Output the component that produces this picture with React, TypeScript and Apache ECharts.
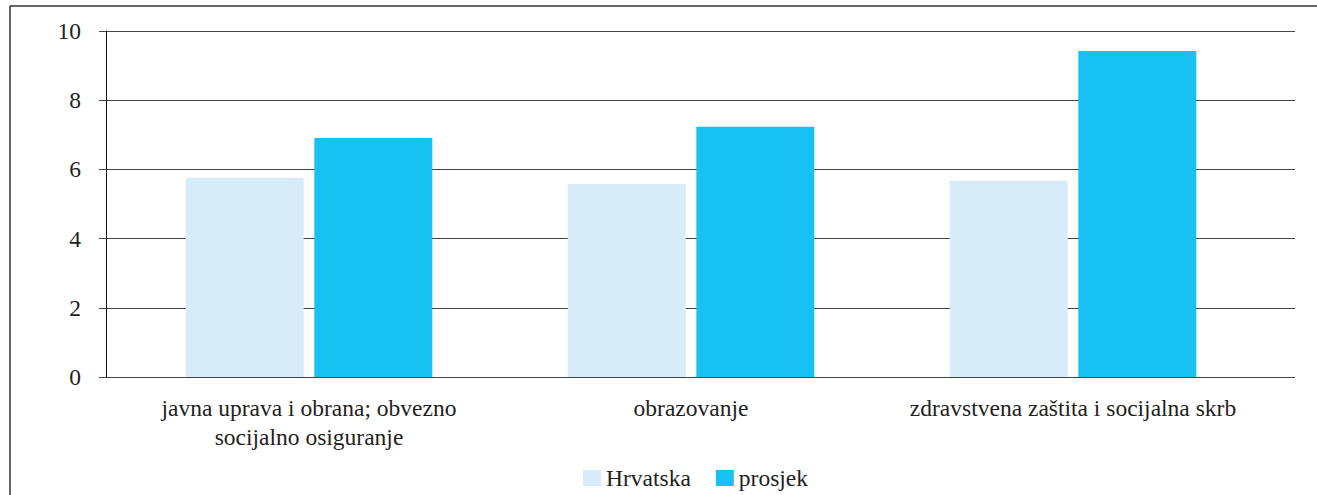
import React, { useEffect, useRef } from "react";
import * as echarts from "echarts";

const categories = [
  "javna uprava i obrana; obvezno\nsocijalno osiguranje",
  "obrazovanje",
  "zdravstvena zaštita i socijalna skrb",
];
const seriesNames = ["Hrvatska", "prosjek"];
const hrvatska = [5.76, 5.58, 5.67];
const prosjek = [6.91, 7.23, 9.42];

const FONT = "Liberation Serif, serif";
const FS = 23.5;
const TEXT = "#231f20";
const GRID_LINE = "#444444";

export default function App() {
  const ref = useRef<HTMLDivElement>(null);
  useEffect(() => {
    if (!ref.current) return;
    const chart = echarts.init(ref.current, undefined, { renderer: "svg" });
    chart.setOption({
      animation: false,
      textStyle: { fontFamily: FONT },
      graphic: [
        {
          type: "line",
          z: -10,
          silent: true,
          shape: { x1: 10, y1: 6, x2: 10, y2: 500 },
          style: { stroke: "#333333", lineWidth: 1.5 },
        },
        {
          type: "line",
          z: -10,
          silent: true,
          shape: { x1: 10, y1: 6, x2: 1330, y2: 6 },
          style: { stroke: "#333333", lineWidth: 1.5 },
        },
      ],
      legend: {
        data: seriesNames,
        left: 583,
        top: 466,
        padding: 0,
        icon: "rect",
        itemWidth: 18,
        itemHeight: 16,
        itemGap: 25,
        textStyle: { fontFamily: FONT, fontSize: FS, color: TEXT },
      },
      grid: [
        { left: 106, right: 22, top: 31, bottom: 118 },
        { left: 118, width: 1146, top: 31, bottom: 118 },
      ],
      xAxis: [
        {
          gridIndex: 0,
          type: "category",
          data: categories,
          show: false,
        },
        {
          gridIndex: 1,
          type: "category",
          data: categories,
          axisLine: { show: false },
          axisTick: { show: false },
          axisLabel: {
            margin: 16,
            fontFamily: FONT,
            fontSize: FS,
            color: TEXT,
            lineHeight: 29,
            interval: 0,
          },
        },
      ],
      yAxis: [
        {
          gridIndex: 0,
          type: "value",
          min: 0,
          max: 10,
          interval: 2,
          axisLine: { show: true, lineStyle: { color: "#111111", width: 1 } },
          axisTick: {
            show: true,
            inside: false,
            length: 7,
            lineStyle: { color: GRID_LINE, width: 1 },
          },
          splitLine: { show: true, lineStyle: { color: GRID_LINE, width: 1 } },
          axisLabel: {
            margin: 25,
            fontFamily: FONT,
            fontSize: FS,
            color: TEXT,
          },
        },
        {
          gridIndex: 1,
          type: "value",
          min: 0,
          max: 10,
          interval: 2,
          show: false,
          splitLine: { show: false },
        },
      ],
      series: [
        {
          name: seriesNames[0],
          type: "bar",
          xAxisIndex: 1,
          yAxisIndex: 1,
          data: hrvatska,
          barWidth: 118,
          barGap: "9%",
          itemStyle: { color: "#d6edf9" },
        },
        {
          name: seriesNames[1],
          type: "bar",
          xAxisIndex: 1,
          yAxisIndex: 1,
          data: prosjek,
          barWidth: 118,
          barGap: "9%",
          itemStyle: { color: "#17c1f2" },
        },
      ],
    });
    return () => chart.dispose();
  }, []);
  return (
    <div
      ref={ref}
      style={{ position: "fixed", left: 0, top: 0, width: 1317, height: 495, background: "#ffffff" }}
    />
  );
}
